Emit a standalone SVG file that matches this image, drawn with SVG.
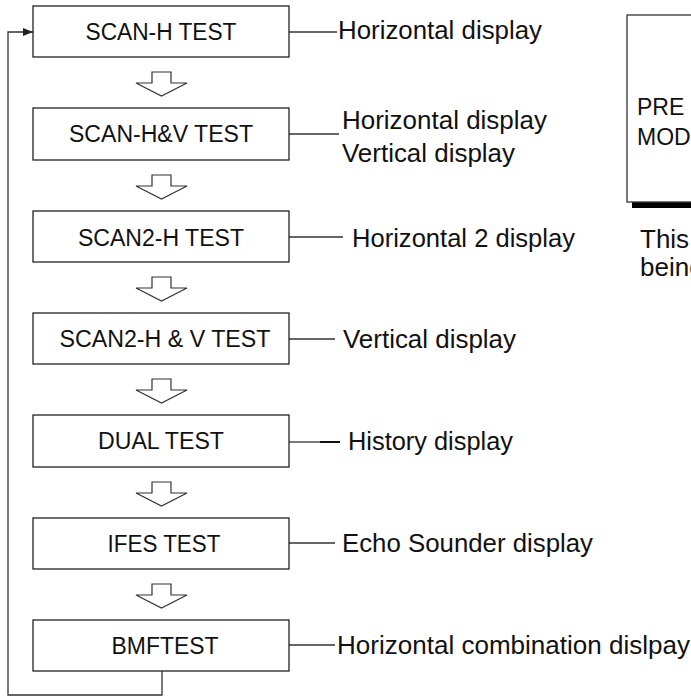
<svg xmlns="http://www.w3.org/2000/svg" width="691" height="697" viewBox="0 0 691 697">
<style>
.box{fill:#fff;stroke:#222;stroke-width:1.3}
.bt{font-family:"Liberation Sans",Arial,sans-serif;font-size:23px;fill:#111;text-anchor:middle}
.lt{font-family:"Liberation Sans",Arial,sans-serif;font-size:26px;fill:#111}
.pt{font-family:"Liberation Sans",Arial,sans-serif;font-size:23px;fill:#111}
.con{stroke:#333;stroke-width:1.3;fill:none}
.harrow{fill:#fff;stroke:#333;stroke-width:1.2;stroke-linejoin:miter}
</style>
<defs>
<marker id="ah" viewBox="0 0 10 8" refX="10" refY="4" markerWidth="10" markerHeight="8" markerUnits="userSpaceOnUse" orient="auto">
<path d="M0,0 L10,4 L0,8 Z" fill="#222"/>
</marker>
</defs>
<rect width="691" height="697" fill="#fff"/>

<g id="connectors">
<path class="con" d="M162,671 V695 H8 V32 H33" marker-end="url(#ah)" stroke="#444"/>
<line class="con" x1="289" y1="32" x2="337" y2="32"/>
<line class="con" x1="289" y1="134" x2="339" y2="134"/>
<line class="con" x1="289" y1="237" x2="343" y2="237"/>
<line class="con" x1="289" y1="339" x2="335" y2="339"/>
<line class="con" x1="289" y1="442" x2="320" y2="442"/>
<line x1="320" y1="442" x2="340" y2="442" stroke="#111" stroke-width="2"/>
<line class="con" x1="289" y1="543" x2="335" y2="543"/>
<line class="con" x1="289" y1="645" x2="335" y2="645"/>
<path class="harrow" d="M152,72 H171 V83 H187 L161.5,96 L136,83 H152 Z"/>
<path class="harrow" d="M152,175 H171 V186 H187 L161.5,199 L136,186 H152 Z"/>
<path class="harrow" d="M152,277 H171 V288 H187 L161.5,301 L136,288 H152 Z"/>
<path class="harrow" d="M152,379 H171 V390 H187 L161.5,403 L136,390 H152 Z"/>
<path class="harrow" d="M152,482 H171 V493 H187 L161.5,506 L136,493 H152 Z"/>
<path class="harrow" d="M152,584 H171 V595 H187 L161.5,608 L136,595 H152 Z"/>
</g>

<g id="n1"><rect class="box" x="33" y="6" width="256" height="51"/><text class="bt" x="161" y="40" textLength="151" lengthAdjust="spacingAndGlyphs">SCAN-H TEST</text></g>
<g id="n2"><rect class="box" x="33" y="108" width="256" height="52"/><text class="bt" x="161" y="142" textLength="184" lengthAdjust="spacingAndGlyphs">SCAN-H&amp;V TEST</text></g>
<g id="n3"><rect class="box" x="33" y="211" width="256" height="51"/><text class="bt" x="161" y="246" textLength="166" lengthAdjust="spacingAndGlyphs">SCAN2-H TEST</text></g>
<g id="n4"><rect class="box" x="33" y="313" width="256" height="51"/><text class="bt" x="165" y="347" textLength="211" lengthAdjust="spacingAndGlyphs">SCAN2-H &amp; V TEST</text></g>
<g id="n5"><rect class="box" x="33" y="415" width="256" height="52"/><text class="bt" x="161" y="449" textLength="126" lengthAdjust="spacingAndGlyphs">DUAL TEST</text></g>
<g id="n6"><rect class="box" x="33" y="518" width="256" height="51"/><text class="bt" x="164" y="552" textLength="113" lengthAdjust="spacingAndGlyphs">IFES TEST</text></g>
<g id="n7"><rect class="box" x="33" y="620" width="256" height="51"/><text class="bt" x="165" y="654" textLength="107" lengthAdjust="spacingAndGlyphs">BMFTEST</text></g>

<g id="labels">
<text class="lt" x="338" y="39" textLength="204" lengthAdjust="spacingAndGlyphs">Horizontal display</text>
<text class="lt" x="342" y="129" textLength="205" lengthAdjust="spacingAndGlyphs">Horizontal display</text>
<text class="lt" x="342" y="162" textLength="173" lengthAdjust="spacingAndGlyphs">Vertical display</text>
<text class="lt" x="352" y="247" textLength="223" lengthAdjust="spacingAndGlyphs">Horizontal 2 display</text>
<text class="lt" x="343" y="348" textLength="173" lengthAdjust="spacingAndGlyphs">Vertical display</text>
<text class="lt" x="348" y="450" textLength="165" lengthAdjust="spacingAndGlyphs">History display</text>
<text class="lt" x="342" y="552" textLength="251" lengthAdjust="spacingAndGlyphs">Echo Sounder display</text>
<text class="lt" x="337" y="654" textLength="353" lengthAdjust="spacingAndGlyphs">Horizontal combination dislpay</text>
</g>

<g id="panel">
<rect x="632" y="20" width="100" height="188" fill="#000"/>
<rect x="627" y="15" width="100" height="187" fill="#fff" stroke="#333" stroke-width="1.3"/>
<text class="pt" x="637" y="115">PRE</text>
<text class="pt" x="637" y="145">MOD</text>
<text class="lt" x="640" y="248">This</text>
<text class="lt" x="640" y="276">being</text>
</g>
</svg>
